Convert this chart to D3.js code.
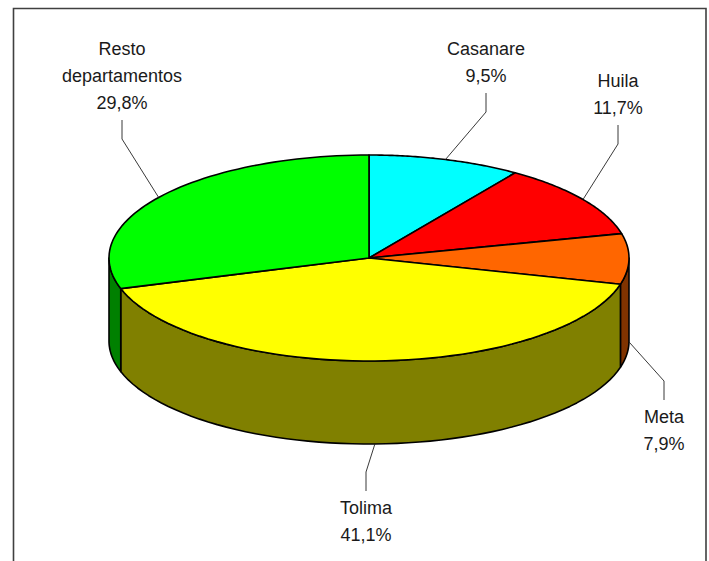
<!DOCTYPE html>
<html>
<head>
<meta charset="utf-8">
<script src="https://cdn.jsdelivr.net/npm/d3@7/dist/d3.min.js"></script>
<style>
html,body{margin:0;padding:0;background:#fff;overflow:hidden}
text{font-family:"Liberation Sans",Arial,sans-serif;font-size:18px;fill:#1a1a1a;text-anchor:middle}
</style>
</head>
<body>
<svg id="c" width="709" height="561"></svg>
<script>
const categories = ["Casanare","Huila","Meta","Tolima","Resto departamentos"];
const values = [9.5,11.7,7.9,41.1,29.8];
const topColors = ["#00ffff","#ff0000","#ff6600","#ffff00","#00ff00"];
const sideColors = ["#008080","#800000","#803300","#808000","#008000"];
const labelLines = [["Casanare","9,5%"],["Huila","11,7%"],["Meta","7,9%"],["Tolima","41,1%"],["Resto","departamentos","29,8%"]];
const labelCenterX = [486,618,664,366,122];
const labelFirstBaseline = [55,87,423,514,55];
const elbowY = [112,144,381,472,139];
const stubY = [93,125,400,491,120];
const leaderDeg = [17.1,55.4,90.5,178.7,306];

const svg = d3.select("#c");
const x = d3.scaleLinear().domain([-1,1]).range([109,629]);
const y = d3.scaleLinear().domain([-1,1]).range([155,361]);
const depth = 83, lineH = 27.2;
const px = a => x(Math.sin(a));
const py = a => y(-Math.cos(a));

svg.append("path").attr("d","M13.5,570V8.5H706V570")
  .attr("fill","#fff").attr("stroke","#404040").attr("stroke-width",1.6);

const arcs = d3.pie().sort(null).value(d=>d)(values);
const line = d3.line().x(d=>d[0]).y(d=>d[1]);
const sample = (a0,a1) => d3.range(0,61).map(i=>a0+(a1-a0)*i/60);

const sideG = svg.append("g"), topG = svg.append("g");
arcs.forEach((d,i)=>{
  const a0 = Math.max(d.startAngle, Math.PI/2), a1 = Math.min(d.endAngle, Math.PI*1.5);
  if (a1 <= a0) return;
  const front = sample(a0,a1).map(a=>[px(a),py(a)]);
  const back = sample(a1,a0).map(a=>[px(a),py(a)+depth]);
  sideG.append("path").attr("d",line(front.concat(back))+"Z")
    .attr("fill",sideColors[i]).attr("stroke","#000").attr("stroke-width",1.6).attr("stroke-linejoin","round");
});
arcs.forEach((d,i)=>{
  const rim = sample(d.startAngle,d.endAngle).map(a=>[px(a),py(a)]);
  topG.append("path").attr("d",line([[x(0),y(0)]].concat(rim))+"Z")
    .attr("fill",topColors[i]).attr("stroke","#000").attr("stroke-width",1.6).attr("stroke-linejoin","round");
});

categories.forEach((c,i)=>{
  const a = leaderDeg[i]*Math.PI/180;
  const onSide = a > Math.PI/2 && a < Math.PI*1.5;
  const end = [px(a), py(a)+(onSide?depth:0)];
  svg.append("path").attr("d",line([[labelCenterX[i],stubY[i]],[labelCenterX[i],elbowY[i]],end]))
    .attr("fill","none").attr("stroke","#222").attr("stroke-width",0.9);
  const t = svg.append("text");
  labelLines[i].forEach((s,k)=>t.append("tspan").attr("x",labelCenterX[i]).attr("y",labelFirstBaseline[i]+k*lineH).text(s));
});
</script>
</body>
</html>
